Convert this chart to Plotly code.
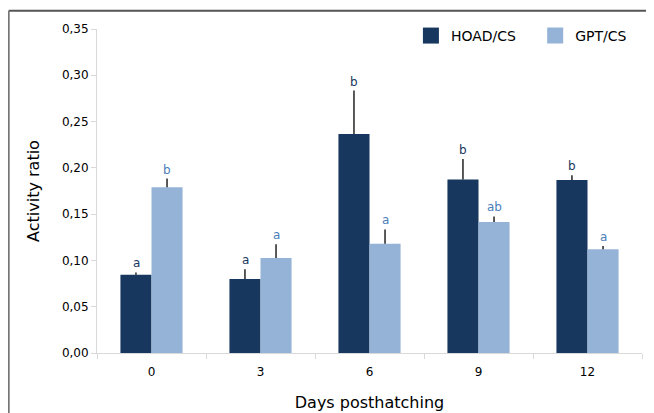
import plotly.graph_objects as go

days = ["0", "3", "6", "9", "12"]
hoad = [0.0845, 0.0800, 0.2365, 0.1875, 0.1870]
hoad_err = [0.0025, 0.0105, 0.0470, 0.0220, 0.0050]
gpt = [0.1790, 0.1025, 0.1180, 0.1415, 0.1120]
gpt_err = [0.0095, 0.0150, 0.0155, 0.0060, 0.0035]
hoad_letters = ["a", "a", "b", "b", "b"]
gpt_letters = ["b", "a", "a", "ab", "a"]

DARK = "#17375E"
LIGHT = "#95B3D7"
LETTER_BLUE = "#4A7EBB"
FONT = "DejaVu Sans"

fig = go.Figure()
fig.add_trace(go.Bar(
    x=days, y=hoad, name="HOAD/CS", showlegend=False, marker=dict(color=DARK, line=dict(width=0)),
    error_y=dict(type="data", array=hoad_err, arrayminus=[0]*len(hoad_err), symmetric=False,
                 color="black", thickness=1.3, width=0),
))
fig.add_trace(go.Bar(
    x=days, y=gpt, name="GPT/CS", showlegend=False, marker=dict(color=LIGHT, line=dict(width=0)),
    error_y=dict(type="data", array=gpt_err, arrayminus=[0]*len(gpt_err), symmetric=False,
                 color="black", thickness=1.3, width=0),
))
# legend entries (large square swatches)
fig.add_trace(go.Scatter(x=[None], y=[None], mode="markers", name="HOAD/CS", legend="legend",
                         marker=dict(symbol="square", size=17, color=DARK)))
fig.add_trace(go.Scatter(x=[None], y=[None], mode="markers", name="GPT/CS", legend="legend2",
                         marker=dict(symbol="square", size=17, color=LIGHT)))

for i, d in enumerate(days):
    fig.add_annotation(x=i, y=hoad[i] + hoad_err[i], text=hoad_letters[i], showarrow=False,
                       xshift=-15.5, yshift=0, yanchor="bottom",
                       font=dict(family=FONT, size=12, color=DARK))
    fig.add_annotation(x=i, y=gpt[i] + gpt_err[i], text=gpt_letters[i], showarrow=False,
                       xshift=15.5, yshift=0, yanchor="bottom",
                       font=dict(family=FONT, size=12, color=LETTER_BLUE))

# frame lines (top and left)
fig.add_shape(type="line", xref="paper", yref="paper", x0=-0.162, x1=1.05, y0=1.056, y1=1.056,
              line=dict(color="#555555", width=2))
fig.add_shape(type="line", xref="paper", yref="paper", x0=-0.162, x1=-0.162, y0=1.056, y1=-0.2,
              line=dict(color="#777777", width=2))

legend_common = dict(orientation="h", yanchor="middle", xanchor="left", y=0.9785,
                     font=dict(family=FONT, size=14, color="black"), bgcolor="rgba(0,0,0,0)",
                     itemsizing="trace")
fig.update_layout(
    width=646, height=405,
    margin=dict(l=89, r=12, t=19, b=60),
    paper_bgcolor="white", plot_bgcolor="white",
    separators=",.",
    barmode="group", bargap=0.43, bargroupgap=0,
    font=dict(family=FONT, size=12, color="black"),
    legend=dict(x=0.576, **legend_common),
    legend2=dict(x=0.804, **legend_common),
    showlegend=True,
)
fig.update_xaxes(
    type="category", range=[-0.5, 4.5], automargin=False, showline=True, linecolor="#D9D9D9", linewidth=1,
    ticks="outside", tickson="boundaries", ticklen=5, tickcolor="#D9D9D9", ticklabelstandoff=8,
    showgrid=False, tickfont=dict(family=FONT, size=12),
    title=dict(text="Days posthatching", font=dict(family=FONT, size=16), standoff=18),
)
fig.update_yaxes(
    range=[0, 0.35], dtick=0.05, tickformat=".2f", automargin=False, showline=True, linecolor="#D9D9D9",
    linewidth=1, ticks="outside", ticklen=5, tickcolor="#D9D9D9", showgrid=False,
    zeroline=False, tickfont=dict(family=FONT, size=12),
    title=dict(text="Activity ratio", font=dict(family=FONT, size=16), standoff=18),
)

fig.write_html("out.html")
